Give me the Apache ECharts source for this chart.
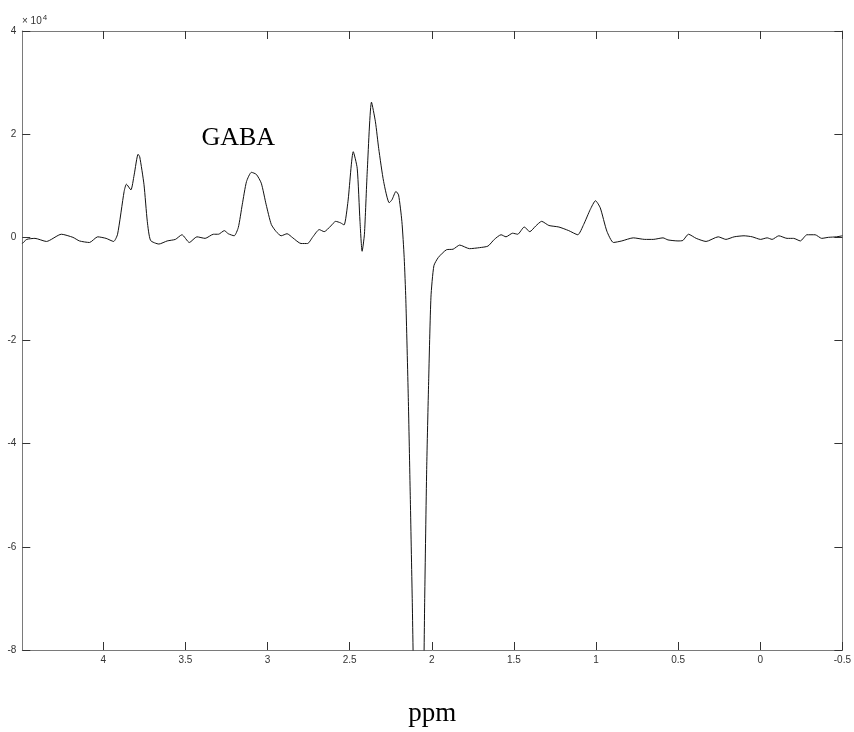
<!DOCTYPE html>
<html>
<head>
<meta charset="utf-8">
<script src="https://cdn.jsdelivr.net/npm/echarts@6/dist/echarts.min.js"></script>
<style>
html,body{margin:0;padding:0;background:#fff;}
#chart{width:854px;height:732px;}
</style>
</head>
<body>
<div id="chart"></div>
<script>
// Chemical shift (ppm) and signal (units of 10^4)
const ppm = [
  4.493,4.466,4.416,4.346,4.255,4.185,4.145,4.084,4.034,3.983,3.937,3.913,3.873,3.859,3.832,3.812,3.788,3.778,3.752,3.732,3.712,
  3.661,3.611,3.561,3.521,3.476,3.430,3.380,3.329,3.299,3.263,3.239,3.203,3.178,3.154,3.128,3.098,3.068,3.038,3.008,2.977,2.947,
  2.917,2.881,2.846,2.796,2.756,2.726,2.685,2.655,2.615,2.585,2.555,2.534,2.510,2.478,2.454,2.437,2.424,2.410,2.393,2.367,2.343,
  2.323,2.293,2.259,2.242,2.218,2.202,2.182,2.168,2.158,2.143,2.131,2.119,2.107,2.079,2.052,2.043,2.031,2.019,2.005,1.987,1.960,
  1.910,1.870,1.830,1.770,1.709,1.658,1.619,1.578,1.548,1.508,1.477,1.437,1.403,1.367,1.331,1.287,1.226,1.166,1.111,1.075,1.035,
  1.003,0.974,0.934,0.894,0.843,0.773,0.703,0.652,0.592,0.562,0.501,0.471,0.437,0.390,0.330,0.256,0.209,0.159,0.099,0.049,-0.002,
  -0.042,-0.072,-0.113,-0.163,-0.203,-0.244,-0.284,-0.334,-0.374,-0.415,-0.465,-0.5
];
const signal = [
  -0.12,-0.04,-0.02,-0.08,0.06,0.00,-0.07,-0.10,0.01,-0.02,-0.08,0.06,0.89,1.03,0.92,1.21,1.61,1.56,1.02,0.31,-0.06,
  -0.13,-0.07,-0.04,0.05,-0.10,0.01,-0.02,0.06,0.06,0.13,0.07,0.03,0.19,0.63,1.08,1.26,1.22,1.05,0.63,0.25,0.11,
  0.03,0.07,-0.01,-0.12,-0.12,0.00,0.15,0.11,0.22,0.31,0.28,0.24,0.70,1.66,1.34,0.31,-0.27,0.06,1.27,2.62,2.24,
  1.72,1.08,0.67,0.73,0.89,0.82,0.31,-0.39,-1.20,-3.10,-5.00,-7.00,-9.00,-10.50,-9.00,-7.00,-4.50,-2.80,-1.16,-0.55,-0.39,
  -0.24,-0.23,-0.15,-0.22,-0.20,-0.17,-0.04,0.05,0.01,0.08,0.06,0.20,0.11,0.22,0.31,0.23,0.20,0.13,0.05,0.25,0.54,
  0.71,0.57,0.12,-0.10,-0.07,-0.01,-0.04,-0.04,-0.01,-0.05,-0.07,-0.06,0.06,-0.02,-0.08,0.01,-0.04,0.01,0.03,0.01,-0.04,
  -0.01,-0.04,0.03,-0.02,-0.02,-0.07,0.05,0.05,-0.02,0.00,0.01,0.03
];
const xTicks = [-0.5, 0, 0.5, 1, 1.5, 2, 2.5, 3, 3.5, 4];
const yTicks = [-8, -6, -4, -2, 0, 2, 4];
const xRange = [-0.5, 4.493];
const yRange = [-8, 4];
const peakLabel = 'GABA';
const xName = 'ppm';

const chart = echarts.init(document.getElementById('chart'), null, {renderer: 'canvas'});
const lineStyleAxis = {color: '#7a7a7a', width: 1};
const tickStyle = {color: '#333', width: 1};
const labelFont = {fontFamily: 'Liberation Sans', fontSize: 10, color: '#333'};

const data = ppm.map((p, i) => [p, signal[i]]);

const option = {
  animation: false,
  backgroundColor: '#fff',
  grid: {left: 22.3, right: 5, top: 31, bottom: 75, containLabel: false},
  xAxis: [
    {
      type: 'value', inverse: true, min: xRange[0], max: xRange[1], position: 'bottom',
      name: xName, nameLocation: 'middle', nameGap: 50,
      nameTextStyle: {fontFamily: 'Liberation Serif', fontSize: 27, color: '#000'},
      axisLine: {show: true, onZero: false, lineStyle: lineStyleAxis},
      axisTick: {show: true, inside: true, length: 8, customValues: xTicks, lineStyle: tickStyle},
      axisLabel: Object.assign({show: true, margin: 5, customValues: xTicks}, labelFont),
      splitLine: {show: false}
    },
    {
      type: 'value', inverse: true, min: xRange[0], max: xRange[1], position: 'top',
      axisLine: {show: true, onZero: false, lineStyle: lineStyleAxis},
      axisTick: {show: true, inside: true, length: 8, customValues: xTicks, lineStyle: tickStyle},
      axisLabel: {show: false},
      splitLine: {show: false}
    }
  ],
  yAxis: [
    {
      type: 'value', min: yRange[0], max: yRange[1], interval: 2, position: 'left',
      axisLine: {show: true, onZero: false, lineStyle: lineStyleAxis},
      axisTick: {show: true, inside: true, length: 8, customValues: yTicks, lineStyle: tickStyle},
      axisLabel: Object.assign({show: true, margin: 6, customValues: yTicks}, labelFont),
      splitLine: {show: false}
    },
    {
      type: 'value', min: yRange[0], max: yRange[1], interval: 2, position: 'right',
      axisLine: {show: true, onZero: false, lineStyle: lineStyleAxis},
      axisTick: {show: true, inside: true, length: 8, customValues: yTicks, lineStyle: tickStyle},
      axisLabel: {show: false},
      splitLine: {show: false}
    }
  ],
  series: [{
    type: 'line',
    xAxisIndex: 0, yAxisIndex: 0,
    data: data,
    showSymbol: false,
    smooth: 0.2,
    clip: true,
    lineStyle: {color: '#111', width: 1},
    markPoint: {
      symbol: 'rect', symbolSize: 0,
      label: {show: true, formatter: peakLabel, fontFamily: 'Liberation Serif', fontSize: 26, color: '#000', position: 'inside'},
      data: [{coord: [3.178, 1.92]}]
    }
  }],
  graphic: [{
    type: 'text', left: 22, top: 14,
    style: {
      text: '× 10{s|4}',
      font: '10px "Liberation Sans"', fill: '#333',
      rich: {s: {fontSize: 8, verticalAlign: 'top', padding: [0,0,6,1], fontFamily: 'Liberation Sans', fill: '#333'}}
    }
  }]
};
chart.setOption(option);
</script>
</body>
</html>
